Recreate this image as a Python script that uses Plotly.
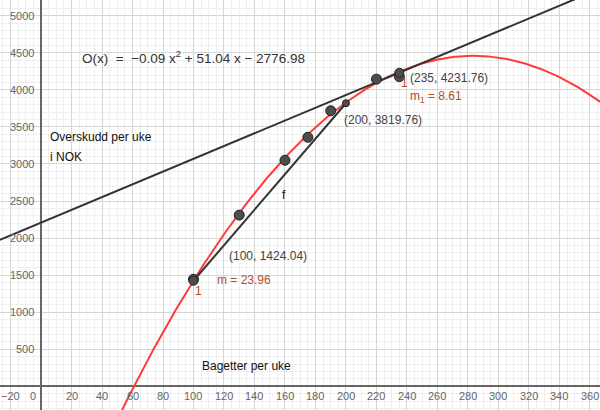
import numpy as np
import plotly.graph_objects as go

# Model O(x) = a x^2 + b x + c
coef_a, coef_b, coef_c = -0.09, 51.04, -2776.98

# observed data points (Bagetter per uke, Overskudd)
data_x = [100, 130, 160, 175, 190, 220, 235]
data_y = [1445, 2310, 3050, 3360, 3718, 4145, 4178]

# secant f endpoints
sec_x = [100, 200]
sec_y = [1424.04, 3819.76]
sec_slope = 23.96

# tangent point and slope
tan_x0, tan_y0 = 235, 4231.76
tan_slope = 8.61

x_ticks = list(range(-20, 361, 20))
y_ticks = list(range(500, 5001, 500))

XMIN, XMAX = -26.9, 366.6
YMIN, YMAX = -320, 5213

fig = go.Figure()

# red curve
xc = np.linspace(XMIN, XMAX, 600)
yc = coef_a * xc**2 + coef_b * xc + coef_c
fig.add_trace(go.Scatter(x=xc, y=yc, mode="lines",
                         line=dict(color="#ff3b3b", width=2), hoverinfo="skip"))

# tangent line
xt = np.array([XMIN, XMAX])
yt = tan_y0 + tan_slope * (xt - tan_x0)
fig.add_trace(go.Scatter(x=xt, y=yt, mode="lines",
                         line=dict(color="#333333", width=2), hoverinfo="skip"))

# secant f
fig.add_trace(go.Scatter(x=sec_x, y=sec_y, mode="lines",
                         line=dict(color="#333333", width=2), hoverinfo="skip"))

# data points
fig.add_trace(go.Scatter(x=data_x, y=data_y, mode="markers",
                         marker=dict(color="#4d4d4d", size=10,
                                     line=dict(color="#222222", width=1)),
                         hoverinfo="skip"))
# special points
fig.add_trace(go.Scatter(x=[sec_x[0], tan_x0], y=[sec_y[0], tan_y0], mode="markers",
                         marker=dict(color="#4d4d4d", size=9,
                                     line=dict(color="#222222", width=1)),
                         hoverinfo="skip"))
fig.add_trace(go.Scatter(x=[sec_x[1]], y=[sec_y[1]], mode="markers",
                         marker=dict(color="#4d4d4d", size=7,
                                     line=dict(color="#222222", width=1)),
                         hoverinfo="skip"))

FONT = "Liberation Sans, Arial, sans-serif"
ann = []
# tick labels
for t in x_ticks:
    if t == 0:
        ann.append(dict(x=0, y=0, text="0", xanchor="right", yanchor="top",
                        xshift=-3, yshift=-2, showarrow=False,
                        font=dict(size=11, color="#666666", family=FONT)))
    else:
        lab = str(t).replace("-", "\u2212")
        ann.append(dict(x=t, y=0, text=lab, xanchor="center", yanchor="top",
                        yshift=-2, showarrow=False,
                        font=dict(size=11, color="#666666", family=FONT)))
for t in y_ticks:
    ann.append(dict(x=0, y=t, text=str(t), xanchor="right", yanchor="middle",
                    xshift=-5, showarrow=False,
                    font=dict(size=11, color="#666666", family=FONT)))


def add(x, y, s, color="#333333", size=12):
    ann.append(dict(x=x, y=y, text=s, xanchor="left", yanchor="middle",
                    showarrow=False, font=dict(size=size, color=color, family=FONT)))


add(25.6, 4444, "O(x)  =  \u22120.09 x<sup>2</sup> + 51.04 x \u2212 2776.98", "#333333", 13.5)
add(4.6, 3364, "Overskudd per uke", "#111111", 12)
add(4.6, 3094, "i NOK", "#111111", 12)
add(104.3, 274, "Bagetter per uke", "#111111", 12)
add(157, 2580, "f", "#111111", 12)
add(122, 1759, "(100, 1424.04)", "#444444", 12)
add(114, 1434, "m = 23.96", "#b0501f", 12)
add(100, 1286, "1", "#b0501f", 12)
add(197.4, 3600, "(200, 3819.76)", "#444444", 12)
add(240.7, 4160, "(235, 4231.76)", "#444444", 12)
add(240.7, 3904, "m<sub>1</sub> = 8.61", "#b0501f", 12)
add(234.5, 4093, "1", "#b0501f", 12)

fig.update_layout(
    width=600, height=410, margin=dict(l=0, r=0, t=0, b=0),
    paper_bgcolor="white", plot_bgcolor="white", showlegend=False,
    annotations=ann,
    xaxis=dict(range=[XMIN, XMAX], dtick=20, tick0=0, showticklabels=False,
               showgrid=True, gridcolor="#d6d6d6", gridwidth=1,
               minor=dict(dtick=5, tick0=0, showgrid=True, gridcolor="#efefef", gridwidth=1),
               zeroline=True, zerolinecolor="#666666", zerolinewidth=1.5,
               ticks="", fixedrange=True),
    yaxis=dict(range=[YMIN, YMAX], dtick=500, tick0=0, showticklabels=False,
               showgrid=True, gridcolor="#d6d6d6", gridwidth=1,
               minor=dict(dtick=100, tick0=0, showgrid=True, gridcolor="#efefef", gridwidth=1),
               zeroline=True, zerolinecolor="#666666", zerolinewidth=1.5,
               ticks="", fixedrange=True),
)

fig.write_html("out.html", config={"displayModeBar": False},
               post_script="document.body.style.margin='0';")
